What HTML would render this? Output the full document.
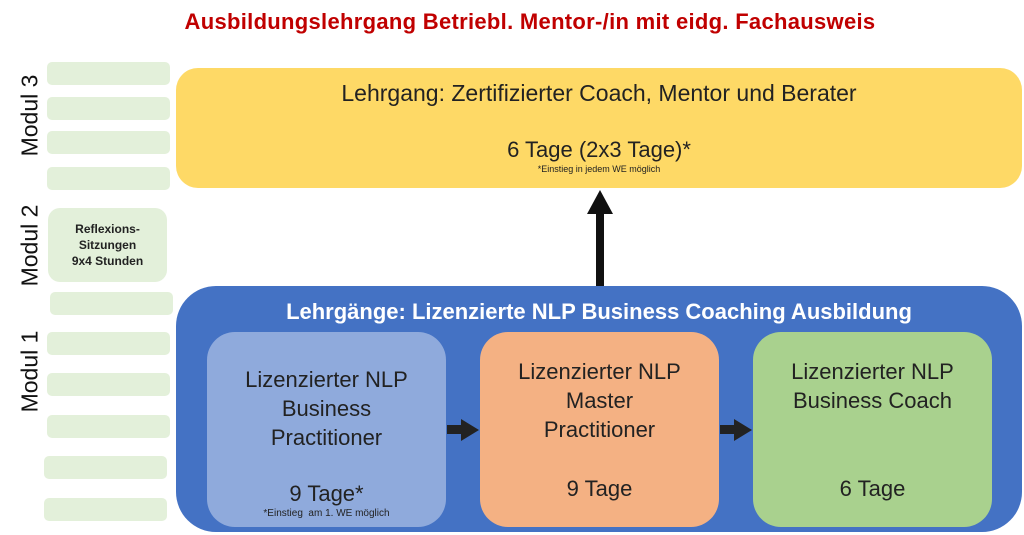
<!DOCTYPE html>
<html><head><meta charset="utf-8"><style>
body{margin:0;width:1024px;height:535px;background:#fff;position:relative;overflow:hidden;font-family:"Liberation Sans","DejaVu Sans",sans-serif}
.a{position:absolute}
.bar{position:absolute;background:#e3f0da;border-radius:5px;width:123px;height:23px}
.rot{position:absolute;transform:rotate(-90deg);font-size:23px;color:#111;white-space:nowrap;width:120px;text-align:center}
.box{position:absolute;border-radius:28px;text-align:center;color:#222;font-size:22px;line-height:29px}
</style></head><body>
<div class="a" style="left:0;width:1060px;top:9px;text-align:center;color:#c00000;font-weight:bold;font-size:22px;letter-spacing:0.3px">Ausbildungslehrgang Betriebl. Mentor-/in mit eidg. Fachausweis</div>
<div class="bar" style="left:47px;top:62px"></div>
<div class="bar" style="left:47px;top:97px"></div>
<div class="bar" style="left:47px;top:131px"></div>
<div class="bar" style="left:47px;top:167px"></div>
<div class="a" style="left:48px;top:208px;width:119px;height:74px;background:#e3f0da;border-radius:12px;text-align:center;font-weight:bold;font-size:12px;line-height:16px;color:#222;padding-top:13px;box-sizing:border-box">Reflexions-<br>Sitzungen<br>9x4 Stunden</div>
<div class="bar" style="left:50px;top:292px"></div>
<div class="bar" style="left:47px;top:332px"></div>
<div class="bar" style="left:47px;top:373px"></div>
<div class="bar" style="left:47px;top:415px"></div>
<div class="bar" style="left:44px;top:456px"></div>
<div class="bar" style="left:44px;top:498px"></div>
<div class="rot" style="left:-30px;top:102px">Modul 3</div>
<div class="rot" style="left:-30px;top:232px">Modul 2</div>
<div class="rot" style="left:-30px;top:358px">Modul 1</div>
<div class="box" style="left:176px;top:68px;width:846px;height:120px;background:#fed966;border-radius:22px">
<div style="margin-top:11px;font-size:23px">Lehrgang: Zertifizierter Coach, Mentor und Berater</div>
<div style="margin-top:27px;font-size:22px">6 Tage (2x3 Tage)*</div>
<div style="font-size:9px;line-height:11px">*Einstieg in jedem WE möglich</div></div>
<div class="a" style="left:596px;top:210px;width:8px;height:78px;background:#111"></div>
<div class="a" style="left:587px;top:190px;width:0;height:0;border-left:13px solid transparent;border-right:13px solid transparent;border-bottom:24px solid #111"></div>
<div class="box" style="left:176px;top:286px;width:846px;height:246px;background:#4472c4;border-radius:40px">
<div style="margin-top:11px;color:#fff;font-weight:bold;font-size:22px">Lehrgänge: Lizenzierte NLP Business Coaching Ausbildung</div></div>
<div class="box" style="left:207px;top:332px;width:239px;height:195px;background:#8faadc">
<div style="margin-top:33px">Lizenzierter NLP<br>Business<br>Practitioner</div>
<div style="margin-top:27px">9 Tage*</div>
<div style="font-size:10px;line-height:12px">*Einstieg &nbsp;am 1. WE möglich</div></div>
<div class="box" style="left:480px;top:332px;width:239px;height:195px;background:#f4b183">
<div style="margin-top:25px">Lizenzierter NLP<br>Master<br>Practitioner</div>
<div style="margin-top:30px">9 Tage</div></div>
<div class="box" style="left:753px;top:332px;width:239px;height:195px;background:#a9d18e">
<div style="margin-top:25px">Lizenzierter NLP<br>Business Coach</div>
<div style="margin-top:59px">6 Tage</div></div>
<div class="a" style="left:447px;top:425px;width:16px;height:9px;background:#222"></div>
<div class="a" style="left:461px;top:419px;border-top:11px solid transparent;border-bottom:11px solid transparent;border-left:18px solid #222"></div>
<div class="a" style="left:720px;top:425px;width:16px;height:9px;background:#222"></div>
<div class="a" style="left:734px;top:419px;border-top:11px solid transparent;border-bottom:11px solid transparent;border-left:18px solid #222"></div>
</body></html>
